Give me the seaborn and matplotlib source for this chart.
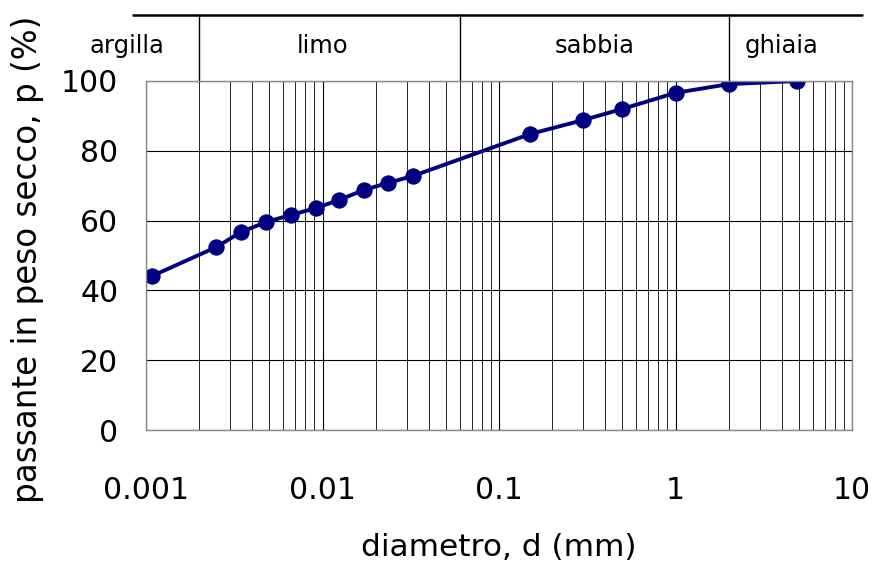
import numpy as np
import pandas as pd
import matplotlib.pyplot as plt
import seaborn as sns
from matplotlib.ticker import FixedLocator, NullFormatter

sns.set_style("white")
plt.rcParams['font.family'] = ['DejaVu Sans']
plt.rcParams['text.color'] = 'black'
plt.rcParams['axes.labelcolor'] = 'black'
plt.rcParams['xtick.color'] = 'black'
plt.rcParams['ytick.color'] = 'black'

# grain size curve: diameter (mm) vs passing (%)
diametro = [0.00108, 0.0025, 0.00345, 0.0048, 0.0066, 0.0092, 0.0124,
            0.0172, 0.0235, 0.0326, 0.15, 0.30, 0.50, 1.0, 2.0, 4.9]
passante = [44.1, 52.4, 56.7, 59.6, 61.6, 63.6, 65.9, 68.8, 70.8, 72.8,
            84.8, 88.8, 92.0, 96.6, 99.1, 100.0]

# soil classes and their limits (mm)
classi = ["argilla", "limo", "sabbia", "ghiaia"]
limiti = [0.002, 0.06, 2.0]
x_ticks = [0.001, 0.01, 0.1, 1, 10]
x_labels = ["0.001", "0.01", "0.1", "1", "10"]
y_ticks = [0, 20, 40, 60, 80, 100]

df = pd.DataFrame({"d": diametro, "p": passante})

fig = plt.figure(figsize=(8.75, 5.68), dpi=100)
ax = fig.add_axes([146/875, 1 - 430/568, 706/875, 349/568])

sns.lineplot(data=df, x="d", y="p", ax=ax, color="#000080", linewidth=2.8,
             marker="o", markersize=11, markeredgecolor="#000080")

ax.set_xscale("log")
ax.set_xlim(0.001, 10)
ax.set_ylim(0, 100)
ax.xaxis.set_major_locator(FixedLocator(x_ticks))
ax.set_xticklabels(x_labels)
ax.xaxis.set_minor_formatter(NullFormatter())
ax.set_yticks(y_ticks)

ax.grid(True, which="major", color="black", linewidth=0.8)
ax.grid(True, which="minor", axis="x", color="black", linewidth=0.6)
ax.tick_params(axis="both", which="both", length=0, labelsize=21.5)
ax.tick_params(axis="x", pad=33)
ax.tick_params(axis="y", pad=20)
for s in ax.spines.values():
    s.set_color("#888888")
    s.set_linewidth(1.0)

ax.set_xlabel("diametro, d (mm)", fontsize=22.5)
ax.set_ylabel("passante in peso secco, p (%)", fontsize=23.5)
ax.xaxis.set_label_coords(0.5, -0.295)
ax.yaxis.set_label_coords(-0.145, 0.49)

# header band with soil classes
trans = ax.get_xaxis_transform()
y_top = (430 - 15) / 349
ax.plot([-0.018, 1.014], [y_top, y_top], transform=ax.transAxes,
        color="black", linewidth=1.8, clip_on=False)
for lim in limiti:
    ax.plot([lim, lim], [1, y_top], transform=trans, color="black",
            linewidth=1.0, clip_on=False)
pos_label = [0.00078, 0.01, 0.35, 4.0]
for nome, xp in zip(classi, pos_label):
    ax.text(xp, (430 - 46) / 349, nome, transform=trans, ha="center",
            va="center", fontsize=17.5)

fig.savefig("out.png", dpi=100)
